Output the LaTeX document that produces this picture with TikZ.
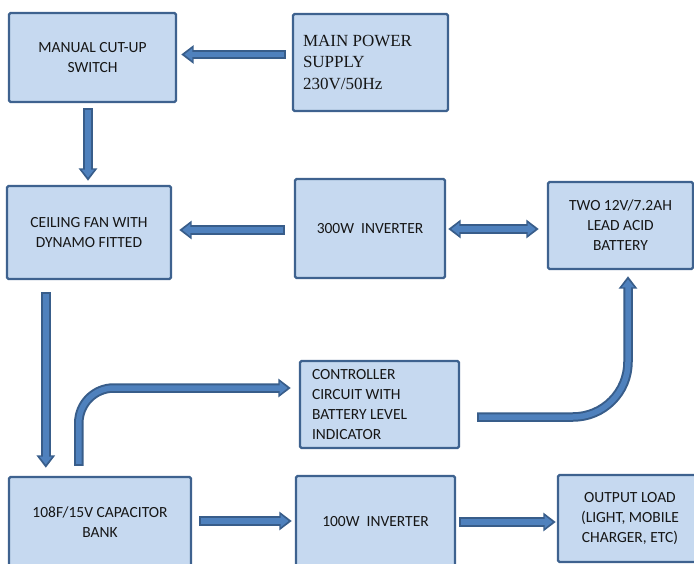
\documentclass[tikz,border=0pt]{standalone}
\usepackage{fontspec}
\setmainfont{Carlito}
\newfontfamily\supplyfont{Liberation Serif}
\usetikzlibrary{arrows.meta}
\definecolor{boxfill}{RGB}{198,217,240}
\definecolor{boxedge}{RGB}{62,98,143}
\definecolor{arrowfill}{RGB}{79,129,189}
\definecolor{arrowedge}{RGB}{56,93,138}
\definecolor{textgray}{RGB}{22,22,22}

\begin{document}
\begin{tikzpicture}[x=1pt, y=-1pt,
    block/.style={draw=boxedge, fill=boxfill, line width=2.4pt, rounded corners=1.5pt,
      inner sep=0pt, align=center, text=textgray, font=\fontsize{15.5}{20}\selectfont},
    fatarrow/.style={draw=arrowedge, line width=9.5pt, -{Triangle[width=18pt,length=12.5pt]},
      postaction={draw=arrowfill, line width=5.5pt, shorten <=2pt, shorten >=3.2pt,
        -{Triangle[width=12pt,length=8pt]}}},
    fatboth/.style={draw=arrowedge, line width=9.5pt,
      {Triangle[width=18pt,length=12.5pt]}-{Triangle[width=18pt,length=12.5pt]},
      postaction={draw=arrowfill, line width=5.5pt, shorten <=3.2pt, shorten >=3.2pt,
        {Triangle[width=12pt,length=8pt]}-{Triangle[width=12pt,length=8pt]}}}]
  \useasboundingbox (0,0) rectangle (694,564);

  % top row
  \node[block, minimum width=167pt, minimum height=89pt] (manual) at (92.5,57.5) {MANUAL CUT-UP\\SWITCH};
  \node[block, minimum height=97pt, text width=135pt, inner xsep=10pt, align=flush left,
    font=\supplyfont\fontsize{17}{21.5}\selectfont] (main) at (370.5,62.5) {MAIN POWER\\SUPPLY\\230V/50Hz};

  % middle row
  \node[block, minimum width=164pt, minimum height=93pt] (fan) at (89,232.5) {CEILING FAN WITH\\DYNAMO FITTED};
  \node[block, minimum width=150pt, minimum height=99pt] (inv300) at (370,228.5) {300W\ \ INVERTER};
  \node[block, minimum width=145pt, minimum height=87pt] (battery) at (620.5,225.5) {TWO 12V/7.2AH\\LEAD ACID\\BATTERY};
  \node[block, minimum height=87pt, text width=135pt, inner xsep=12pt, align=flush left] (ctrl) at (379.5,404.5)
    {CONTROLLER\\CIRCUIT WITH\\BATTERY LEVEL\\INDICATOR};

  % bottom row
  \node[block, minimum width=182pt, minimum height=90pt] (cap) at (100,522) {108F/15V CAPACITOR\\BANK};
  \node[block, minimum width=159pt, minimum height=92pt] (inv100) at (375.5,522) {100W\ \ INVERTER};
  \node[block, minimum width=144pt, minimum height=87pt] (output) at (630,518.5) {OUTPUT LOAD\\(LIGHT, MOBILE\\CHARGER, ETC)};

  % arrows
  \draw[fatarrow] ([xshift=-6pt,yshift=8pt]main.west) -- ([xshift=4pt,yshift=8pt]main.west -| manual.east);
  \draw[fatarrow] ([xshift=-4.5pt,yshift=-5pt]manual.south) -- ([xshift=-1pt,yshift=4pt]fan.north);
  \draw[fatarrow] ([xshift=-9pt,yshift=-1.5pt]inv300.west) -- ([xshift=7pt,yshift=2.5pt]fan.east);
  \draw[fatboth] ([xshift=2pt,yshift=-0.5pt]inv300.east) -- ([xshift=-8pt,yshift=-3.5pt]battery.west);
  \draw[fatarrow] ([xshift=40pt,yshift=-12pt]fan.south west) -- ([xshift=38pt,yshift=8pt]cap.north west);
  \draw[fatarrow, rounded corners=35pt] ([xshift=71pt,yshift=10pt]cap.north west) |- ([xshift=-8pt,yshift=16.5pt]ctrl.west);
  \draw[fatarrow, rounded corners=55pt] ([xshift=17pt,yshift=-12.5pt]ctrl.east) -| ([xshift=7.5pt,yshift=-6pt]battery.south);
  \draw[fatarrow] ([xshift=7pt,yshift=1pt]cap.east) -- ([xshift=-3pt,yshift=1pt]inv100.west);
  \draw[fatarrow] ([xshift=3pt]inv100.east) -- ([xshift=-1pt,yshift=-3.5pt]output.west);
\end{tikzpicture}
\end{document}
